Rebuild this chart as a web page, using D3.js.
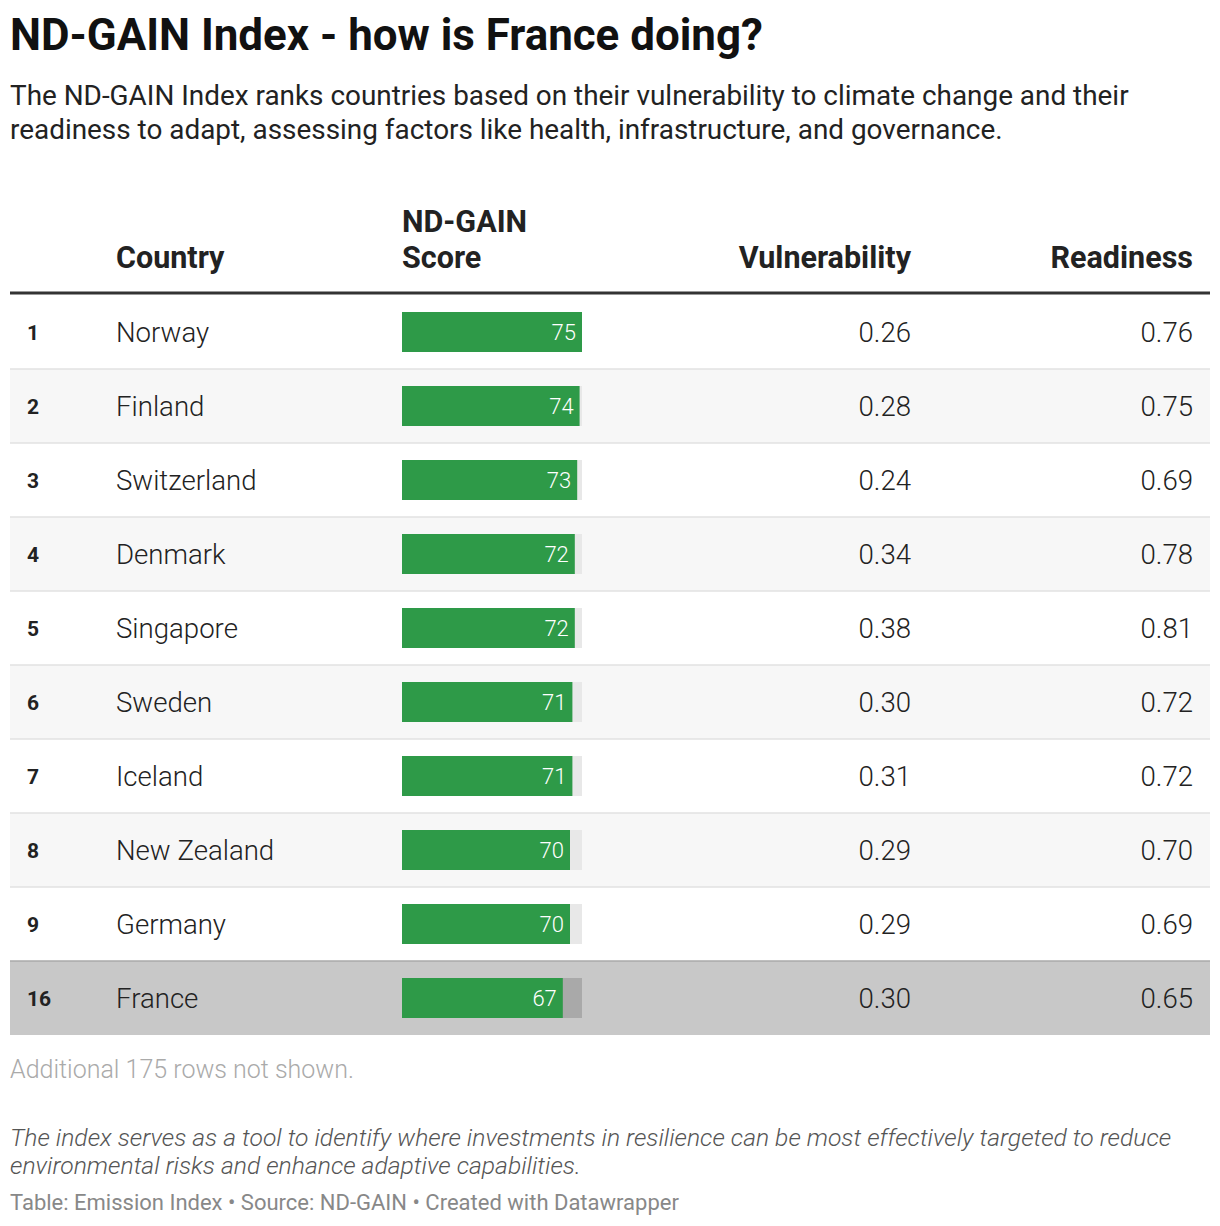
<!DOCTYPE html>
<html><head><meta charset="utf-8">
<script src="https://cdn.jsdelivr.net/npm/d3@7"></script>
<style>
body{margin:0;background:#fff;font-family:Roboto,sans-serif;}
</style></head><body>
<svg id="chart" width="1220" height="1226"></svg>
<script>
const ranks = [1, 2, 3, 4, 5, 6, 7, 8, 9, 16];
const countries = ["Norway", "Finland", "Switzerland", "Denmark", "Singapore", "Sweden", "Iceland", "New Zealand", "Germany", "France"];
const scores = [75, 74, 73, 72, 72, 71, 71, 70, 70, 67];
const vulnerability = ["0.26", "0.28", "0.24", "0.34", "0.38", "0.30", "0.31", "0.29", "0.29", "0.30"];
const readiness = ["0.76", "0.75", "0.69", "0.78", "0.81", "0.72", "0.72", "0.70", "0.69", "0.65"];

const svg = d3.select('#chart')
const left = 10, right = 1210, tableTop = 295, rowH = 74

svg.append('text').attr('x', left).attr('y', 50).attr('font-size', 43.9).attr('font-weight', 700)
    .attr('fill', '#111').text('ND-GAIN Index - how is France doing?')
const sub = ['The ND-GAIN Index ranks countries based on their vulnerability to climate change and their',
             'readiness to adapt, assessing factors like health, infrastructure, and governance.']
sub.forEach((s, i) => svg.append('text').attr('x', left).attr('y', 105 + i * 34)
    .attr('font-size', 27.9).attr('fill', '#222').text(s))

// header
const hy = 268
function head(x, lines, anchor) {
    lines.forEach((l, i) => svg.append('text').attr('x', x).attr('y', hy - (lines.length - 1 - i) * 36)
        .attr('font-size', 30.5).attr('font-weight', 700).attr('fill', '#222')
        .attr('text-anchor', anchor).text(l))
}
head(116, ['Country'], 'start')
head(402, ['ND-GAIN', 'Score'], 'start')
head(911, ['Vulnerability'], 'end')
head(1193, ['Readiness'], 'end')
svg.append('line').attr('x1', left).attr('x2', right).attr('y1', 293).attr('y2', 293)
    .attr('stroke', '#333').attr('stroke-width', 3)

const y = d3.scaleBand().domain(d3.range(countries.length)).range([tableTop, tableTop + rowH * countries.length])
const x = d3.scaleLinear().domain([0, d3.max(scores)]).range([402, 582])

const rows = svg.selectAll('g.row').data(countries).enter().append('g')
    .attr('transform', (d, i) => `translate(0,${y(i)})`)
rows.append('rect').attr('x', left).attr('width', right - left).attr('height', rowH)
    .attr('fill', (d, i) => d === 'France' ? '#c8c8c8' : (i % 2 ? '#f7f7f7' : '#fff'))
rows.filter((d, i) => i > 0).append('line').attr('x1', left).attr('x2', right)
    .attr('stroke', (d) => d === 'France' ? '#aaa' : '#e2e2e2').attr('stroke-width', 1.5)

const mid = rowH / 2
rows.append('text').attr('x', 27).attr('y', mid + 8).attr('font-size', 21).attr('font-weight', 700)
    .attr('fill', '#222').text((d, i) => ranks[i])
rows.append('text').attr('x', 116).attr('y', mid + 10).attr('font-size', 27.6).attr('font-weight', 300)
    .attr('fill', '#222').text(d => d)
rows.append('rect').attr('x', x(0)).attr('y', mid - 20).attr('height', 40).attr('width', x(75) - x(0))
    .attr('fill', d => d === 'France' ? '#a9a9a9' : '#e8e8e8')
rows.append('rect').attr('x', x(0)).attr('y', mid - 20).attr('height', 40)
    .attr('width', (d, i) => x(scores[i]) - x(0)).attr('fill', '#2e9a48')
rows.append('text').attr('x', (d, i) => x(scores[i]) - 6).attr('y', mid + 8).attr('font-size', 22)
    .attr('font-weight', 300).attr('text-anchor', 'end').attr('fill', '#fff').text((d, i) => scores[i])
rows.append('text').attr('x', 911).attr('y', mid + 10).attr('font-size', 27.6).attr('font-weight', 300)
    .attr('text-anchor', 'end').attr('fill', '#222').text((d, i) => vulnerability[i])
rows.append('text').attr('x', 1193).attr('y', mid + 10).attr('font-size', 27.6).attr('font-weight', 300)
    .attr('text-anchor', 'end').attr('fill', '#222').text((d, i) => readiness[i])

svg.append('text').attr('x', left).attr('y', 1078).attr('font-size', 25).attr('font-weight', 300)
    .attr('fill', '#aaa').text('Additional 175 rows not shown.')
const note = ['The index serves as a tool to identify where investments in resilience can be most effectively targeted to reduce',
              'environmental risks and enhance adaptive capabilities.']
note.forEach((s, i) => svg.append('text').attr('x', left).attr('y', 1146 + i * 28).attr('font-size', 24.7)
    .attr('font-style', 'italic').attr('font-weight', 300).attr('fill', '#555').text(s))
svg.append('text').attr('x', left).attr('y', 1210).attr('font-size', 22).attr('fill', '#888')
    .text('Table: Emission Index • Source: ND-GAIN • Created with Datawrapper')
</script></body></html>
